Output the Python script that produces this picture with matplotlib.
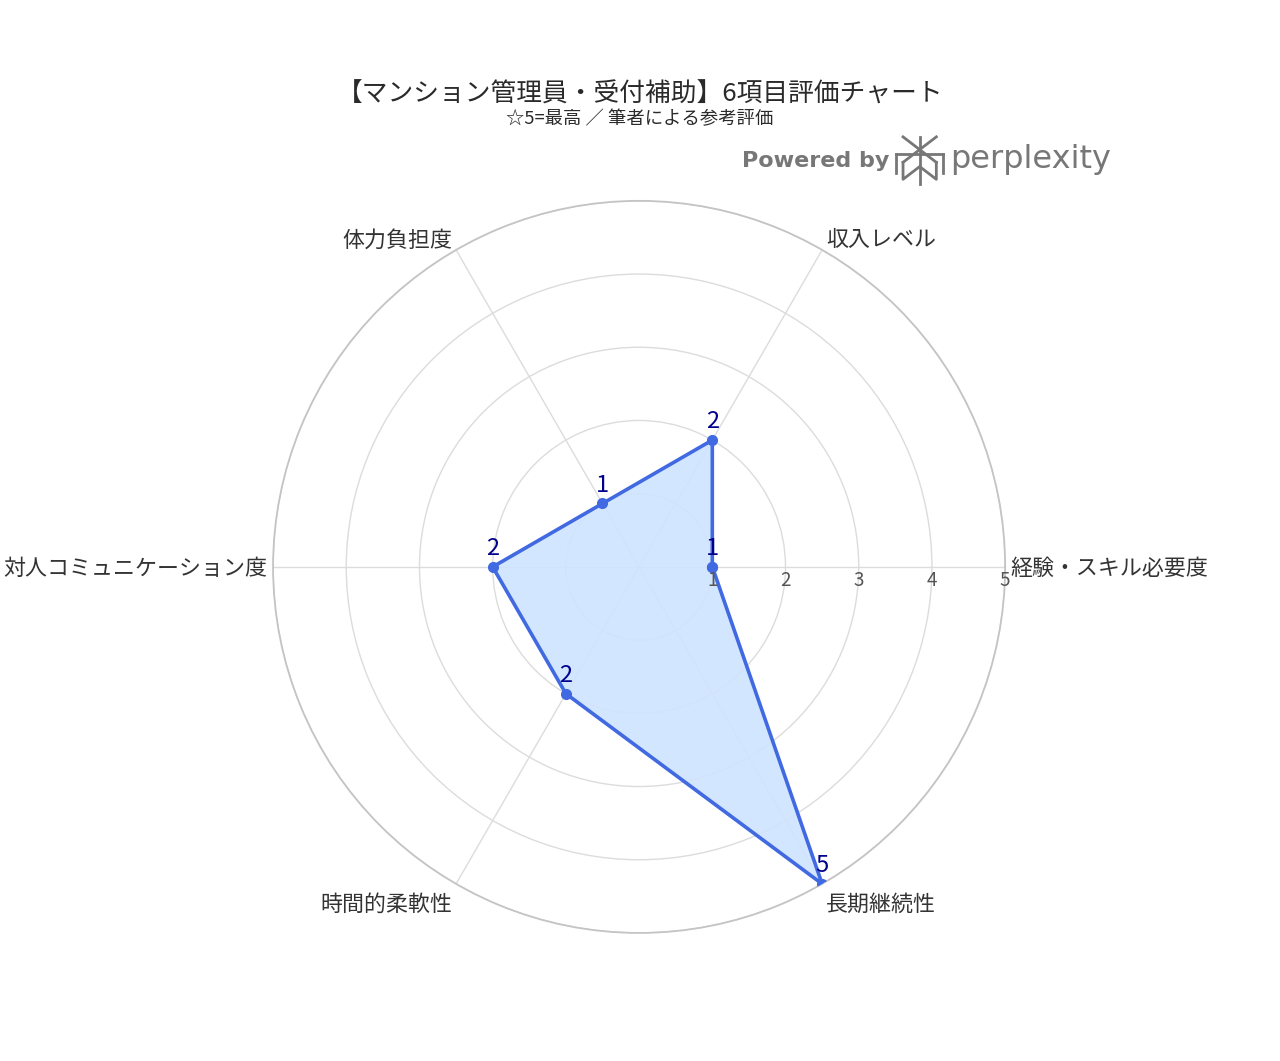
import numpy as np
import matplotlib.pyplot as plt
from matplotlib.lines import Line2D

plt.rcParams['font.family'] = ['Noto Sans CJK JP', 'DejaVu Sans']

# data
categories = ["経験・スキル必要度", "収入レベル", "体力負担度",
              "対人コミュニケーション度", "時間的柔軟性", "長期継続性"]
scores = [1, 2, 1, 2, 2, 5]
r_ticks = [1, 2, 3, 4, 5]
title = "【マンション管理員・受付補助】6項目評価チャート"
subtitle = "☆5=最高 ／ 筆者による参考評価"

line_col = "#4169E1"
fill_col = "#cfe4ff"
label_col = "#00008B"

angles = np.deg2rad(np.arange(len(categories)) * 60)
ang_c = np.append(angles, angles[0])
sc_c = np.append(scores, scores[0])

fig = plt.figure(figsize=(12.8, 10.61), dpi=100)
ax = fig.add_axes([0.2133, 0.1207, 0.572, 0.690], projection='polar')

ax.fill(ang_c, sc_c, color=fill_col, alpha=0.9, zorder=2)
ax.plot(ang_c, sc_c, color=line_col, lw=2.6, marker='o', ms=7, zorder=3)

ax.set_ylim(0, 5)
ax.set_yticks(r_ticks)
ax.set_yticklabels([])
ax.set_xticks(angles)
ax.set_xticklabels([])
ax.grid(color='#dcdcdc', lw=1.0)
ax.spines['polar'].set_color('#c4c4c4')
ax.spines['polar'].set_linewidth(1.3)
ax.tick_params(length=0)

# radial tick labels along 0 deg
for r in r_ticks:
    ax.annotate(str(r), (0, r), xytext=(0, -2), textcoords='offset points',
                ha='center', va='top', fontsize=13.5, color='#555555')

# category labels
align = [('left', 'center'), ('left', 'bottom'), ('right', 'bottom'),
         ('right', 'center'), ('right', 'top'), ('left', 'top')]
offs = [(4, -1.5), (3, -1), (-3, -1), (-4, -1.5), (-3, -7), (3, -7)]
for a, lab, (ha, va), off in zip(angles, categories, align, offs):
    ax.annotate(lab, (a, 5), xytext=off, textcoords='offset points',
                ha=ha, va=va, fontsize=15.8, color='#333333')

# value labels
for a, s in zip(angles, scores):
    ax.annotate(str(s), (a, s), xytext=(0, 5), textcoords='offset points',
                ha='center', va='bottom', fontsize=17, color=label_col, zorder=4)

fig.text(0.5, 0.911, title, ha='center', va='center', fontsize=18.5, color='#2a2a2a')
fig.text(0.5, 0.888, subtitle, ha='center', va='center', fontsize=13.2, color='#2a2a2a')

# "Powered by perplexity" mark
fig.text(0.580, 0.848, "Powered by", ha='left', va='center', fontsize=16,
         color='#777777', fontweight='bold', family=['DejaVu Sans'])
fig.text(0.742, 0.850, "perplexity", ha='left', va='center', fontsize=23,
         color='#777777', family=['DejaVu Sans'])
cx, cy = 0.7185, 0.849
w, h = 0.013, 0.020
segs = [
    ([cx, cx], [cy - 1.1 * h, cy + 1.1 * h]),
    ([cx - w, cx + w], [cy + 1.1 * h, cy - 0.1 * h]),
    ([cx + w, cx - w], [cy + 1.1 * h, cy - 0.1 * h]),
    ([cx - 1.4 * w, cx + 1.4 * w], [cy + 0.3 * h, cy + 0.3 * h]),
    ([cx - 1.4 * w, cx - 1.4 * w], [cy + 0.3 * h, cy - 0.6 * h]),
    ([cx + 1.4 * w, cx + 1.4 * w], [cy + 0.3 * h, cy - 0.6 * h]),
    ([cx - w, cx - w, cx, cx + w, cx + w], [cy - 0.1 * h, cy - 0.9 * h, cy - 0.3 * h, cy - 0.9 * h, cy - 0.1 * h]),
]
for xs, ys in segs:
    fig.add_artist(Line2D(xs, ys, transform=fig.transFigure, color='#777777', lw=2))

fig.savefig("out.png", dpi=100, facecolor='white')
